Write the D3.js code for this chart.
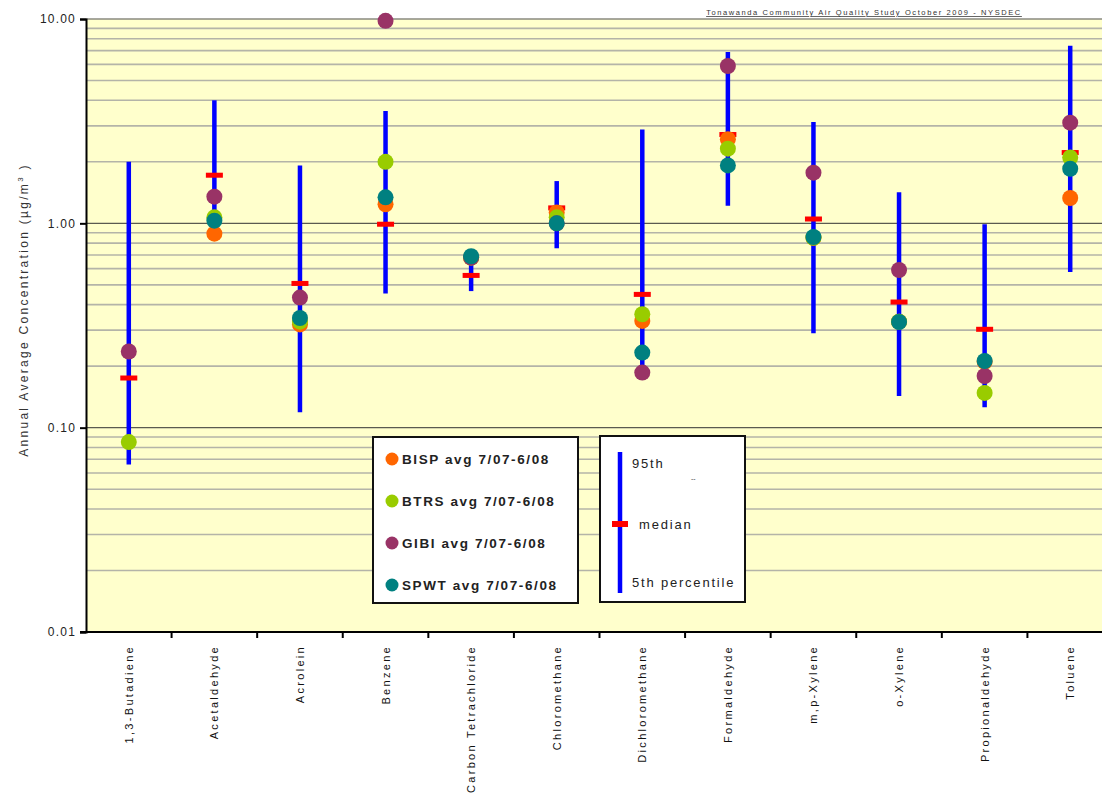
<!DOCTYPE html>
<html>
<head>
<meta charset="utf-8">
<script src="https://cdn.jsdelivr.net/npm/d3@7"></script>
<style>
  html, body { margin: 0; padding: 0; background: #fff; }
  svg { display: block; font-family: Arial, "Liberation Sans", sans-serif; }
</style>
</head>
<body>
<svg id="chart" width="1102" height="793"></svg>
<script>
// Compounds measured, in plotting order
const categories = ["1,3-Butadiene", "Acetaldehyde", "Acrolein", "Benzene", "Carbon Tetrachloride",
  "Chloromethane", "Dichloromethane", "Formaldehyde", "m,p-Xylene", "o-Xylene", "Propionaldehyde", "Toluene"];

// Percentile range and median of the reference distribution (µg/m³)
const p95    = [2.0, 4.0, 1.92, 3.55, 0.73, 1.61, 2.88, 6.9, 3.13, 1.42, 0.99, 7.4];
const p5     = [0.066, 0.95, 0.119, 0.454, 0.466, 0.755, 0.19, 1.22, 0.29, 0.143, 0.126, 0.578];
const median = [0.175, 1.72, 0.508, 0.99, 0.556, 1.19, 0.449, 2.72, 1.05, 0.412, 0.303, 2.22];

// Annual averages per monitoring site (null = not plotted)
const bisp = [null, 0.89, 0.32, 1.24, 0.68, 1.13, 0.333, 2.58, 0.85, 0.33, 0.21, 1.33];
const btrs = [0.085, 1.07, 0.33, 2.0, 0.68, 1.07, 0.359, 2.32, 0.85, 0.33, 0.148, 2.1];
const gibi = [0.236, 1.35, 0.433, 9.8, 0.68, 1.0, 0.186, 5.89, 1.77, 0.591, 0.179, 3.11];
const spwt = [null, 1.03, 0.344, 1.34, 0.69, 1.0, 0.233, 1.92, 0.857, 0.329, 0.212, 1.85];

const siteNames = ["BISP avg 7/07-6/08", "BTRS avg 7/07-6/08", "GIBI avg 7/07-6/08", "SPWT avg 7/07-6/08"];
const siteColors = ["#ff6600", "#99cc00", "#993366", "#008080"];
const siteValues = [bisp, btrs, gibi, spwt];

const yTicks = [10, 1, 0.1, 0.01];
const yTickLabels = ["10.00", "1.00", "0.10", "0.01"];

const svg = d3.select("#chart");
const plot = { left: 86, right: 1113, top: 19, bottom: 632 };

const x = d3.scaleBand().domain(categories).range([plot.left, plot.right]).padding(0);
const y = d3.scaleLog().domain([0.01, 10]).range([plot.bottom, plot.top]);

// plot background
svg.append("rect")
  .attr("x", plot.left).attr("y", plot.top)
  .attr("width", plot.right - plot.left).attr("height", plot.bottom - plot.top)
  .attr("fill", "#ffffcc");

// minor gridlines (2..9 in each decade)
const minor = [];
[0.01, 0.1, 1].forEach(d => { for (let k = 2; k <= 9; k++) minor.push(d * k); });
svg.append("g").selectAll("line").data(minor).join("line")
  .attr("x1", plot.left).attr("x2", plot.right)
  .attr("y1", d => y(d)).attr("y2", d => y(d))
  .attr("stroke", "#b4b4a8").attr("stroke-width", 1.6);

// major gridlines
svg.append("g").selectAll("line").data([0.1, 1]).join("line")
  .attr("x1", plot.left).attr("x2", plot.right)
  .attr("y1", d => y(d)).attr("y2", d => y(d))
  .attr("stroke", "#5a5a50").attr("stroke-width", 1.4);
svg.append("line")
  .attr("x1", plot.left).attr("x2", plot.right)
  .attr("y1", y(10)).attr("y2", y(10))
  .attr("stroke", "#8a8a80").attr("stroke-width", 1.6);

// y axis
const yAxis = d3.axisLeft(y).tickValues(yTicks)
  .tickFormat((d, i) => yTickLabels[i]).tickSize(6).tickPadding(4);
const gy = svg.append("g").attr("transform", `translate(${plot.left},0)`).call(yAxis);
gy.select(".domain").attr("stroke", "#000").attr("stroke-width", 2);
gy.selectAll(".tick line").attr("stroke", "#000").attr("stroke-width", 2);
gy.selectAll(".tick text").attr("font-size", 12).attr("fill", "#222")
  .attr("letter-spacing", "1.2px").attr("font-family", "Arial, 'Liberation Sans', sans-serif");

// x axis: ticks on category boundaries
const boundaries = categories.map(c => x(c)).slice(1);
svg.append("line")
  .attr("x1", plot.left - 6).attr("x2", plot.right)
  .attr("y1", plot.bottom).attr("y2", plot.bottom)
  .attr("stroke", "#000").attr("stroke-width", 2);
svg.append("g").selectAll("line").data(boundaries).join("line")
  .attr("x1", d => d).attr("x2", d => d)
  .attr("y1", plot.bottom).attr("y2", plot.bottom + 6)
  .attr("stroke", "#000").attr("stroke-width", 2);

// category labels, rotated
svg.append("g").selectAll("text").data(categories).join("text")
  .attr("transform", d => `translate(${x(d) + x.bandwidth() / 2 + 4},${plot.bottom + 13}) rotate(-90)`)
  .attr("text-anchor", "end")
  .attr("font-size", 11)
  .attr("letter-spacing", "2.3px")
  .attr("fill", "#111")
  .text(d => d);

// y axis title
svg.append("text")
  .attr("transform", `translate(28,310) rotate(-90)`)
  .attr("text-anchor", "middle")
  .attr("font-size", 12)
  .attr("letter-spacing", "2.3px")
  .attr("fill", "#333")
  .html('Annual Average Concentration (µg/m<tspan dy="-5" font-size="8">3</tspan><tspan dy="5"> )</tspan>');

// chart caption
svg.append("text")
  .attr("x", 864).attr("y", 15)
  .attr("text-anchor", "middle")
  .attr("font-size", 7.5)
  .attr("letter-spacing", "1.6px")
  .attr("text-decoration", "underline")
  .attr("fill", "#333")
  .text("Tonawanda Community Air Quality Study October 2009 - NYSDEC");

// 5th-95th percentile bars
const cx = c => x(c) + x.bandwidth() / 2;
svg.append("g").selectAll("line").data(categories).join("line")
  .attr("x1", d => cx(d)).attr("x2", d => cx(d))
  .attr("y1", (d, i) => y(p95[i])).attr("y2", (d, i) => y(p5[i]))
  .attr("stroke", "#0000ff").attr("stroke-width", 4.5);

// medians
svg.append("g").selectAll("rect").data(categories).join("rect")
  .attr("x", d => cx(d) - 8.5).attr("y", (d, i) => y(median[i]) - 2.5)
  .attr("width", 17).attr("height", 5)
  .attr("fill", "#ff0000");

// site averages
siteValues.forEach((vals, s) => {
  svg.append("g").selectAll("circle")
    .data(categories.map((c, i) => ({ c, v: vals[i] })).filter(d => d.v != null))
    .join("circle")
    .attr("cx", d => cx(d.c)).attr("cy", d => y(d.v))
    .attr("r", 8)
    .attr("fill", siteColors[s]);
});

// legend: sites
const lg = svg.append("g");
lg.append("rect").attr("x", 373).attr("y", 437).attr("width", 205).attr("height", 166)
  .attr("fill", "#fff").attr("stroke", "#111").attr("stroke-width", 2);
siteNames.forEach((name, s) => {
  const yy = 459 + s * 42;
  lg.append("circle").attr("cx", 392).attr("cy", yy).attr("r", 6.5).attr("fill", siteColors[s]);
  lg.append("text").attr("x", 402).attr("y", yy + 5)
    .attr("font-size", 13.5).attr("font-weight", "bold").attr("letter-spacing", "1.6px")
    .attr("fill", "#222").text(name);
});

// legend: percentile key
const lk = svg.append("g");
lk.append("rect").attr("x", 600).attr("y", 436).attr("width", 145).attr("height", 166)
  .attr("fill", "#fff").attr("stroke", "#111").attr("stroke-width", 2);
lk.append("line").attr("x1", 620).attr("x2", 620).attr("y1", 452).attr("y2", 593)
  .attr("stroke", "#0000ff").attr("stroke-width", 4.5);
lk.append("rect").attr("x", 612).attr("y", 521).attr("width", 16).attr("height", 6).attr("fill", "#ff0000");
const keyText = [["95th", 632, 468], ["median", 639, 529], ["5th percentile", 632, 587]];
keyText.forEach(([t, tx, ty]) => {
  lk.append("text").attr("x", tx).attr("y", ty)
    .attr("font-size", 13).attr("letter-spacing", "1.8px").attr("fill", "#222").text(t);
});
lk.append("text").attr("x", 691).attr("y", 481).attr("font-size", 7).attr("fill", "#444").text("--");
</script>
</body>
</html>
